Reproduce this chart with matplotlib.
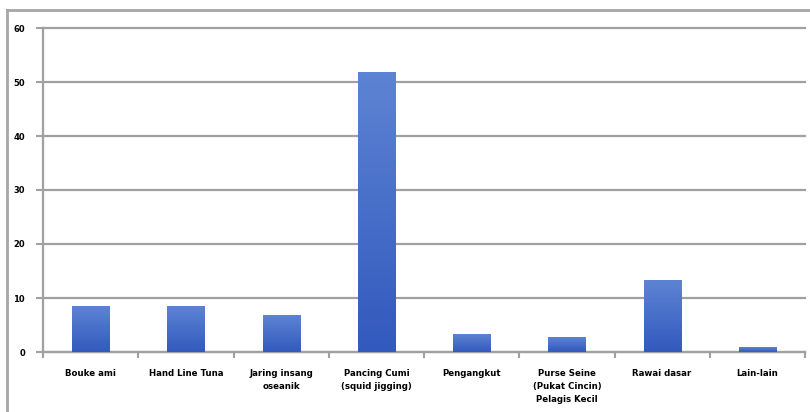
import numpy as np
import matplotlib
matplotlib.use("Agg")
import matplotlib.pyplot as plt
from matplotlib.colors import LinearSegmentedColormap
from matplotlib.lines import Line2D

categories = [
    "Bouke ami",
    "Hand Line Tuna",
    "Jaring insang\noseanik",
    "Pancing Cumi\n(squid jigging)",
    "Pengangkut",
    "Purse Seine\n(Pukat Cincin)\nPelagis Kecil",
    "Rawai dasar",
    "Lain-lain",
]
values = [8.5, 8.5, 6.8, 51.8, 3.3, 2.6, 13.3, 0.9]
y_ticks = [0, 10, 20, 30, 40, 50, 60]

fig = plt.figure(figsize=(8.1, 4.12), dpi=100)
fig.patch.set_facecolor("white")

# outer chart frame (top and left edges visible)
fig.add_artist(Line2D([7 / 810, 1.0], [1 - 10 / 412, 1 - 10 / 412],
                      color="#a6a6a6", lw=2.0, transform=fig.transFigure))
fig.add_artist(Line2D([7 / 810, 7 / 810], [0.0, 1 - 10 / 412],
                      color="#a6a6a6", lw=2.0, transform=fig.transFigure))

ax = fig.add_axes([43 / 810, 1 - 352 / 412, (805 - 43) / 810, (352 - 28) / 412])

x = np.arange(len(categories))
width = 0.39
cmap = LinearSegmentedColormap.from_list("bar", ["#3259bd", "#5d84d3"])
grad = np.linspace(0, 1, 256).reshape(-1, 1)

bars = ax.bar(x, values, width=width, color="none", zorder=3)
for b in bars:
    x0, w, h = b.get_x(), b.get_width(), b.get_height()
    ax.imshow(grad, cmap=cmap, aspect="auto", origin="lower",
              extent=[x0, x0 + w, 0, h], zorder=3, interpolation="bilinear")

ax.set_xlim(-0.5, len(categories) - 0.5)
ax.set_ylim(0, 60)
ax.set_yticks(y_ticks)
ax.set_yticklabels([str(t) for t in y_ticks], fontsize=6, fontweight="bold",
                   family="DejaVu Sans")
ax.yaxis.grid(True, color="#a0a0a0", lw=1.6, zorder=0)
for gl in ax.get_ygridlines():
    gl.set_clip_on(False)
ax.set_axisbelow(True)

ax.set_xticks(x)
ax.set_xticklabels(categories, fontsize=6.2, fontweight="bold",
                   family="DejaVu Sans", linespacing=1.6, va="top")
ax.set_xticks(np.arange(len(categories) + 1) - 0.5, minor=True)
ax.tick_params(axis="x", which="major", length=0, pad=12)
ax.tick_params(axis="x", which="minor", length=4, width=1.5, color="#a0a0a0")
ax.tick_params(axis="y", length=5, width=1.5, color="#a0a0a0", pad=8)

for s in ["top", "right"]:
    ax.spines[s].set_visible(False)
for s in ["left", "bottom"]:
    ax.spines[s].set_color("#a0a0a0")
    ax.spines[s].set_linewidth(1.6)

fig.savefig("out.png", dpi=100)
